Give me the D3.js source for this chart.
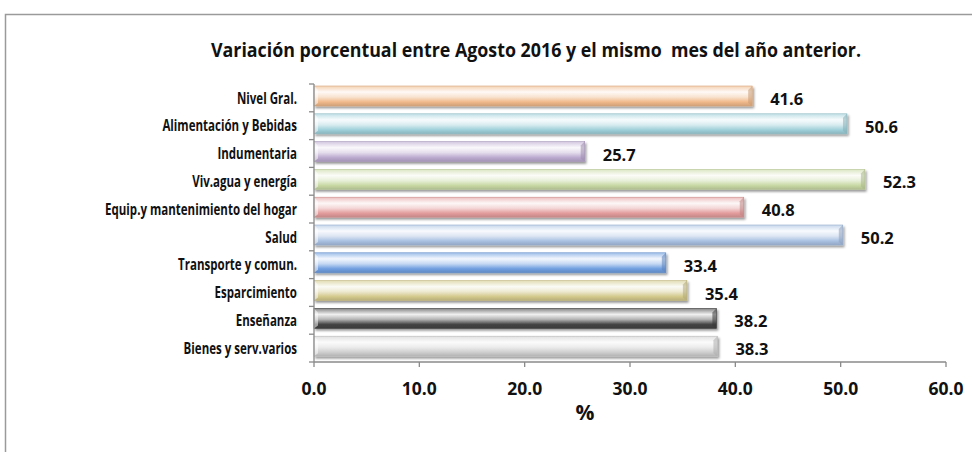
<!DOCTYPE html>
<html>
<head>
<meta charset="utf-8">
<script src="https://cdn.jsdelivr.net/npm/d3@7"></script>
<style>
  body { margin: 0; background: #fff; }
  text { font-family: "Open Sans", sans-serif; font-weight: bold; fill: #111; }
</style>
</head>
<body>
<script>
const categories = ["Nivel Gral.", "Alimentación y Bebidas", "Indumentaria", "Viv.agua y energía",
  "Equip.y mantenimiento del hogar", "Salud", "Transporte y comun.", "Esparcimiento",
  "Enseñanza", "Bienes y serv.varios"];
const values = [41.6, 50.6, 25.7, 52.3, 40.8, 50.2, 33.4, 35.4, 38.2, 38.3];
const colors = ["#f0b98a", "#9fd0da", "#bba9cf", "#c9d9a4", "#e39c9c", "#a9c1e2",
  "#6f9ee0", "#d3c98c", "#444444", "#cfcfcf"];
const xTicks = [0, 10, 20, 30, 40, 50, 60];

const W = 972, H = 452;
const svg = d3.select("body").append("svg").attr("width", W).attr("height", H);
const defs = svg.append("defs");

const f = defs.append("filter").attr("id", "shadow").attr("x", "-5%").attr("y", "-30%")
    .attr("width", "110%").attr("height", "180%");
f.append("feDropShadow").attr("dx", 1.5).attr("dy", 2).attr("stdDeviation", 1.2)
    .attr("flood-color", "#000").attr("flood-opacity", 0.4);

// outer frame
svg.append("path").attr("d", `M5.5,${H} V14.5 H${W}`)
    .attr("fill", "none").attr("stroke", "#9a9a9a").attr("stroke-width", 1.5);

const x = d3.scaleLinear().domain([0, 60]).range([314, 946]);
const y = d3.scaleBand().domain(categories).range([84, 362]);

// narrow text helper (the original uses a condensed face)
const narrow = (sel, sx, ax, ay) => sel.attr("transform", `translate(${ax},${ay}) scale(${sx},1)`);

narrow(svg.append("text"), 0.915, 536, 57).attr("text-anchor", "middle")
    .style("font-size", "19.5px").style("white-space", "pre")
    .text("Variación porcentual entre Agosto 2016 y el mismo  mes del año anterior.");

// gradients per bar
colors.forEach((c, i) => {
  const base = d3.color(c);
  const g = defs.append("linearGradient").attr("id", "g" + i)
      .attr("x1", 0).attr("y1", 0).attr("x2", 0).attr("y2", 1);
  g.append("stop").attr("offset", 0).attr("stop-color", d3.interpolateRgb(c, "#fff")(0.35));
  g.append("stop").attr("offset", 0.3).attr("stop-color", d3.interpolateRgb(c, "#fff")(0.92));
  g.append("stop").attr("offset", 0.55).attr("stop-color", d3.interpolateRgb(c, "#fff")(0.6));
  g.append("stop").attr("offset", 0.8).attr("stop-color", c);
  g.append("stop").attr("offset", 1).attr("stop-color", base.darker(0.4));
});

const barH = 20, off = 2;
const bars = svg.append("g").selectAll("g").data(categories).join("g");

bars.append("rect")
    .attr("x", x(0)).attr("y", d => y(d) + off)
    .attr("width", (d, i) => x(values[i]) - x(0)).attr("height", barH)
    .attr("fill", (d, i) => `url(#g${i})`)
    .attr("stroke", (d, i) => d3.color(colors[i]).darker(0.3)).attr("stroke-width", 0.6)
    .attr("filter", "url(#shadow)");

// bevelled ends
bars.append("path")
    .attr("d", (d, i) => {
      const x1 = x(values[i]), t = y(d) + off, b = t + barH;
      return `M${x1},${t} L${x1 - 4},${t + 4} L${x1 - 4},${b - 3} L${x1},${b} Z`;
    })
    .attr("fill", (d, i) => d3.color(colors[i]).darker(0.5)).attr("opacity", 0.55);
bars.append("path")
    .attr("d", d => {
      const x0 = x(0), t = y(d) + off, b = t + barH;
      return `M${x0},${t} L${x0 + 4},${t + 4} L${x0 + 4},${b - 3} L${x0},${b} Z`;
    })
    .attr("fill", "#fff").attr("opacity", 0.5);

// value labels
bars.append("text")
    .attr("x", (d, i) => x(values[i]) + 18).attr("y", d => y(d) + 21)
    .style("font-size", "16.5px")
    .text((d, i) => values[i].toFixed(1));

// category labels
svg.append("g").selectAll("text").data(categories).join("text")
    .attr("transform", d => `translate(297,${y(d) + 19.5}) scale(0.72,1)`)
    .attr("text-anchor", "end").style("font-size", "16px")
    .text(d => d);

// axes
const axisColor = "#8a8a8a";
const ax = svg.append("g").attr("stroke", axisColor).attr("stroke-width", 1.3);
ax.append("line").attr("x1", x(0)).attr("x2", x(0)).attr("y1", 84).attr("y2", 362);
ax.append("line").attr("x1", x(0)).attr("x2", x(60)).attr("y1", 362).attr("y2", 362);
ax.selectAll(".yt").data(categories.concat(["end"])).join("line")
    .attr("x1", x(0) - 5).attr("x2", x(0))
    .attr("y1", (d, i) => 84 + i * y.step()).attr("y2", (d, i) => 84 + i * y.step());
ax.selectAll(".xt").data(xTicks).join("line")
    .attr("x1", d => x(d)).attr("x2", d => x(d)).attr("y1", 362).attr("y2", 367);

svg.append("g").selectAll("text").data(xTicks).join("text")
    .attr("x", d => x(d)).attr("y", 395).attr("text-anchor", "middle")
    .style("font-size", "17.5px").text(d => d.toFixed(1));

svg.append("text").attr("x", 585).attr("y", 420).attr("text-anchor", "middle")
    .style("font-size", "21px").text("%");
</script>
</body>
</html>
